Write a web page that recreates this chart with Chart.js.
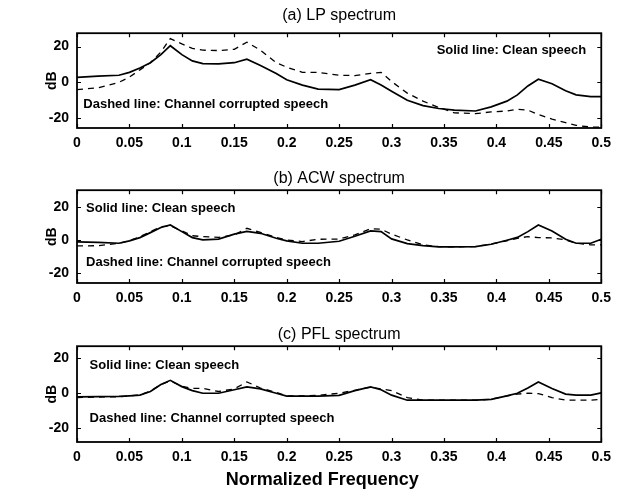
<!DOCTYPE html>
<html>
<head>
<meta charset="utf-8">
<script src="https://cdn.jsdelivr.net/npm/chart.js@4.4.1/dist/chart.umd.min.js"></script>
<style>
html,body{margin:0;padding:0;background:#fff;}
#wrap{position:relative;width:618px;height:496px;overflow:hidden;background:#fff;}
canvas{position:absolute;left:0;}
</style>
</head>
<body>
<div id="wrap">
<canvas id="ca" width="618" height="160" style="top:0px"></canvas>
<canvas id="cb" width="618" height="155" style="top:160px"></canvas>
<canvas id="cc" width="618" height="181" style="top:315px"></canvas>
</div>
<script>
// ---- data ----
const freq = [0, 0.02, 0.04, 0.05, 0.06, 0.07, 0.08, 0.089, 0.1, 0.11, 0.12, 0.135, 0.15, 0.162, 0.175, 0.19, 0.2, 0.215, 0.23, 0.25, 0.265, 0.28, 0.29, 0.3, 0.315, 0.33, 0.345, 0.36, 0.38, 0.395, 0.41, 0.42, 0.43, 0.44, 0.453, 0.466, 0.476, 0.49, 0.5];

const lpClean = [2.8, 3.5, 4, 5.6, 8, 11, 15.5, 20.5, 15.5, 12, 10.5, 10.3, 11, 13, 9.5, 5, 1.5, -1.5, -3.8, -4, -1.5, 1.5, -1.5, -5, -10, -13, -14.6, -15.5, -16, -13.7, -10.5, -7, -2, 1.8, -0.8, -4.7, -7, -8, -8];
const lpNoisy = [-4, -3, 0, 3, 7, 11, 17, 24.5, 21.5, 19, 18, 17.8, 18.5, 22.5, 18, 11, 8.5, 5.6, 5.6, 4, 3.8, 5, 5.6, 0.5, -6, -10.5, -14, -17, -17.5, -16.5, -16, -15, -15.5, -18, -20.5, -22.5, -24, -25, -25];

const acwClean = [-1.2, -1.5, -2, -0.6, 1.4, 4.4, 7.5, 9, 5, 1.4, 0, 0.5, 3.5, 5.2, 4, 1, -0.6, -2, -2, -0.8, 2.2, 5.4, 5, 0.6, -2.2, -3.5, -4.2, -4.2, -4, -2.6, -0.2, 1.5, 5, 9, 5.4, 0.4, -2, -2, 0.4];
const acwNoisy = [-3.6, -3.5, -2, -0.5, 2, 5, 8, 8.5, 5.5, 2.5, 2, 1.5, 3, 7, 4.5, 1.5, 0, -1, 0.4, 0.5, 3, 6.8, 6.5, 3.5, 0, -3, -4, -4.2, -4, -2.5, -0.5, 1, 2, 1.4, 1.2, 0, -2, -3, -3];

const pflClean = [-2.1, -2, -1.8, -1.5, -1.1, 1, 5, 7.4, 3.8, 1.5, 0, 0, 2, 3.6, 2.5, 0, -1.7, -1.7, -1.7, -1.2, 1.5, 3.6, 2, -1.1, -4, -4, -4, -4, -4, -3.5, -1.5, 0, 3, 6.5, 2.7, -0.5, -1.1, -1.1, 0.2];
const pflNoisy = [-2.5, -2.2, -2, -1.5, -1, 1.2, 5, 7, 4, 2.8, 2.8, 1, 2.5, 6.5, 3, 0.5, -1.5, -1.5, -1.2, 0, 1.7, 3.5, 2.5, 1.5, -2.5, -4, -4, -4, -4, -3.5, -1.5, -0.5, 0, -0.2, -2.5, -4, -4, -4, -3.5];

const xTicks = [0, 0.05, 0.1, 0.15, 0.2, 0.25, 0.3, 0.35, 0.4, 0.45, 0.5];
const xTickLabels = ['0', '0.05', '0.1', '0.15', '0.2', '0.25', '0.3', '0.35', '0.4', '0.45', '0.5'];
const yTicks = [-20, 0, 20];
const yTickLabels = ['-20', '0', '20'];

const panelTitles = ['(a) LP spectrum', '(b) ACW spectrum', '(c) PFL spectrum'];
const cleanNote = 'Solid line: Clean speech';
const noisyNote = 'Dashed line: Channel corrupted speech';
const yLabel = 'dB';
const xLabel = 'Normalized Frequency';

// ---- drawing ----
const FAM = '"Liberation Sans", Arial, Helvetica, sans-serif';

const framePlugin = {
  id: 'frame',
  afterDatasetsDraw(chart, args, opts) {
    const {ctx, chartArea: a, scales} = chart;
    const x = scales.x, y = scales.y;
    ctx.save();
    ctx.strokeStyle = '#000';
    ctx.lineWidth = 1.2;
    ctx.beginPath();
    x.ticks.forEach(t => {
      const px = Math.round(x.getPixelForValue(t.value)) + 0.5;
      ctx.moveTo(px, a.bottom); ctx.lineTo(px, a.bottom - 4);
      ctx.moveTo(px, a.top); ctx.lineTo(px, a.top + 4);
    });
    y.ticks.forEach(t => {
      const py = Math.round(y.getPixelForValue(t.value)) + 0.5;
      ctx.moveTo(a.left, py); ctx.lineTo(a.left + 4, py);
      ctx.moveTo(a.right, py); ctx.lineTo(a.right - 4, py);
    });
    ctx.stroke();
    ctx.lineWidth = 1.8;
    ctx.strokeRect(a.left, a.top, a.right - a.left, a.bottom - a.top);
    ctx.fillStyle = '#000';
    ctx.font = 'bold 13px ' + FAM;
    ctx.textBaseline = 'middle';
    ctx.textAlign = 'left';
    (opts.notes || []).forEach(n => {
      ctx.fillText(n.text, x.getPixelForValue(n.x), y.getPixelForValue(n.y));
    });
    if (opts.xLabel) {
      ctx.font = 'bold 18px ' + FAM;
      ctx.textAlign = 'center';
      ctx.fillText(opts.xLabel.text, x.getPixelForValue(opts.xLabel.at), a.bottom + opts.xLabel.dy);
    }
    ctx.restore();
  }
};

function makeChart(id, title, clean, noisy, cfg) {
  const ds = (vals, dashed) => ({
    data: freq.map((f, i) => ({x: f, y: vals[i]})),
    borderColor: '#000',
    borderWidth: dashed ? 1.3 : 1.7,
    borderDash: dashed ? [6, 5] : [],
    pointRadius: 0,
    tension: 0,
    fill: false
  });
  return new Chart(document.getElementById(id), {
    type: 'line',
    data: {datasets: [ds(clean, false), ds(noisy, true)]},
    options: {
      responsive: false,
      animation: false,
      devicePixelRatio: 1,
      layout: {padding: {left: 0, right: 16, top: 0, bottom: 0}},
      plugins: {
        legend: {display: false},
        tooltip: {enabled: false},
        title: {
          display: true, text: title, fullSize: false, color: '#000',
          font: {family: FAM, size: 16, weight: 'normal'},
          padding: cfg.titlePad
        },
        frame: {notes: cfg.notes, xLabel: cfg.xLabel}
      },
      scales: {
        x: {
          type: 'linear', min: 0, max: 0.5,
          grid: {display: false, drawTicks: false},
          border: {display: false},
          afterBuildTicks: s => { s.ticks = xTicks.map(v => ({value: v})); },
          afterFit: s => { s.height = cfg.xHeight; },
          ticks: {
            autoSkip: false, maxRotation: 0, minRotation: 0, padding: 7, color: '#000',
            font: {family: FAM, size: 14, weight: 'bold'},
            callback: (v, i) => xTickLabels[i]
          },
          title: {display: false}
        },
        y: {
          type: 'linear', min: cfg.ymin, max: cfg.ymax,
          grid: {display: false, drawTicks: false},
          border: {display: false},
          afterBuildTicks: s => { s.ticks = yTicks.map(v => ({value: v})); },
          afterFit: s => { s.width = 77; },
          ticks: {
            autoSkip: false, padding: 8, color: '#000',
            font: {family: FAM, size: 14, weight: 'bold'},
            callback: (v, i) => yTickLabels[i]
          },
          title: {
            display: true, text: yLabel, color: '#000',
            font: {family: FAM, size: 14, weight: 'bold'},
            padding: {top: 44, bottom: 0}
          }
        }
      }
    },
    plugins: [framePlugin]
  });
}

makeChart('ca', panelTitles[0], lpClean, lpNoisy, {
  ymin: -25.5, ymax: 27.5, xHeight: 32,
  titlePad: {top: 6, bottom: 8},
  notes: [{text: cleanNote, x: 0.343, y: 18}, {text: noisyNote, x: 0.006, y: -12.1}]
});
makeChart('cb', panelTitles[1], acwClean, acwNoisy, {
  ymin: -26, ymax: 30, xHeight: 32,
  titlePad: {top: 9, bottom: 2},
  notes: [{text: cleanNote, x: 0.0086, y: 19}, {text: noisyNote, x: 0.0086, y: -13.4}]
});
makeChart('cc', panelTitles[2], pflClean, pflNoisy, {
  ymin: -28, ymax: 27, xHeight: 54,
  titlePad: {top: 10, bottom: 2},
  xLabel: {text: xLabel, at: 0.234, dy: 38},
  notes: [{text: cleanNote, x: 0.012, y: 16}, {text: noisyNote, x: 0.012, y: -14.3}]
});
</script>
</body>
</html>
